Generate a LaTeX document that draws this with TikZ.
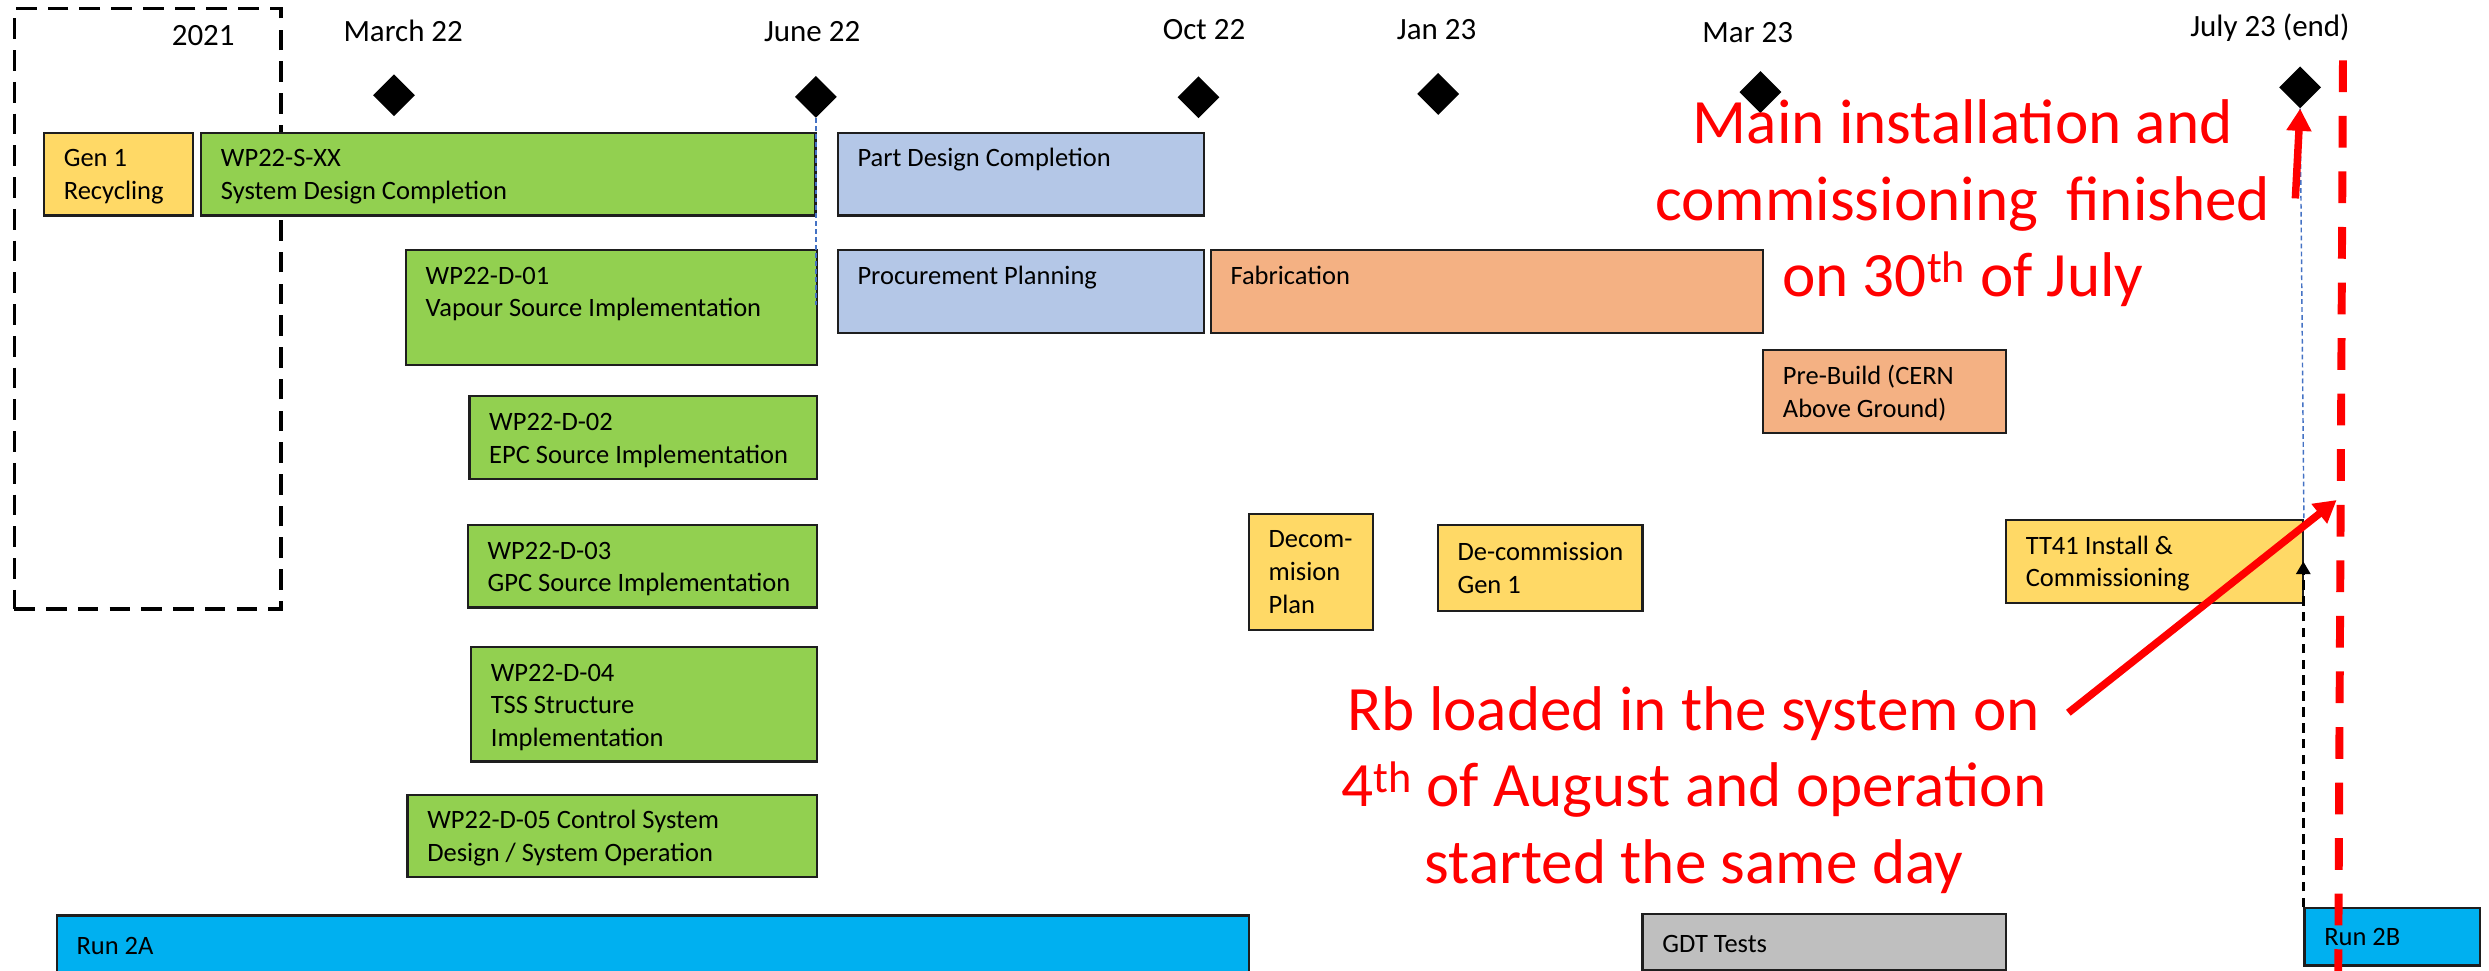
\documentclass[tikz,border=0pt]{standalone}
\usepackage{fontspec}
\setmainfont{Carlito}
\usetikzlibrary{shapes.geometric,arrows.meta}

\definecolor{wpgreen}{HTML}{92D050}
\definecolor{wpyellow}{HTML}{FFD966}
\definecolor{wpblue}{HTML}{B4C7E7}
\definecolor{wporange}{HTML}{F4B183}
\definecolor{runcyan}{HTML}{00B0F0}
\definecolor{testgray}{HTML}{BFBFBF}
\definecolor{edgegray}{HTML}{1E1E1E}
\definecolor{linkblue}{HTML}{4472C4}
\definecolor{notered}{HTML}{FF0000}

\newcommand\boxfont{\fontsize{16.7bp}{20.5bp}\selectfont}
\newcommand\datefont{\fontsize{19.5bp}{23.5bp}\selectfont}
\newcommand\notefont{\fontsize{39.8bp}{48.2bp}\selectfont}

\tikzset{
  task/.style={draw=edgegray, line width=1.4bp, anchor=north west,
    inner sep=0pt, font=\boxfont, text=black},
  milestone/.style={diamond, fill=black, draw=none, minimum width=26.5bp,
    minimum height=26.5bp, inner sep=0pt},
  datelabel/.style={font=\datefont, anchor=base, inner sep=0pt},
  yearbox/.style={draw=black, line width=2bp, dash pattern=on 13bp off 7bp,
    anchor=north west, inner sep=0pt},
  linkline/.style={draw=linkblue, line width=0.9bp, dash pattern=on 3bp off 2bp},
  feedline/.style={draw=black, line width=1.5bp, dash pattern=on 6bp off 4bp,
    -{Triangle[length=8bp,width=9bp]}},
  % multi-line note: the base anchor sits on the baseline of the last line
  notetext/.style={font=\notefont, text=notered, align=center, anchor=base,
    inner sep=0pt},
  notearrow/.style={draw=notered, line width=4.7bp,
    -{Triangle[length=14bp,width=15bp]}},
  deadline/.style={draw=notered, line width=5bp, dash pattern=on 20bp off 15bp},
}

% task bar: [first baseline]{name}{fill}{x}{y}{width}{height}{text}
\newcommand\taskbar[8][21.5]{%
  \node[task, fill=#3] (#2) at (#4,#5)
    {\parbox[t][#7bp][t]{#6bp}{\leftskip=12.5bp\rightskip=0pt plus 1fil%
      \rule{0pt}{#1bp}#8}};}

\begin{document}
\begin{tikzpicture}[x=1bp, y=-1bp]
\useasboundingbox (0,0) rectangle (1568,611.7);

% 2021 period
\node[yearbox, minimum width=168bp, minimum height=378bp] (y2021) at (8,4.6) {};
\node[datelabel] (t2021) at (128,28.8) {2021};

% time axis labels
\node[datelabel] (lMar22) at (254,26.3) {March 22};
\node[datelabel] (lJun22) at (511.6,26.3) {June 22};
\node[datelabel] (lOct22) at (758.5,25.2) {Oct 22};
\node[datelabel] (lJan23) at (905,25.2) {Jan 23};
\node[datelabel] (lMar23) at (1101,27) {Mar 23};
\node[datelabel] (lJul23) at (1430,22.9) {July 23 (end)};

% milestones
\node[milestone] (mMar22) at (248.2,60) {};
\node[milestone] (mJun22) at (514,61) {};
\node[milestone] (mOct22) at (755,61.3) {};
\node[milestone] (mJan23) at (906,59.2) {};
\node[milestone] (mMar23) at (1109,58) {};
\node[milestone] (mJul23) at (1449,55) {};

% work packages and activities
\taskbar{gen1}{wpyellow}{27}{83}{94}{52}{Gen 1\\Recycling}
\taskbar{wps}{wpgreen}{126}{83}{387}{52}{WP22-S-XX\\System Design Completion}
\taskbar{pdc}{wpblue}{527}{83}{231}{52}{Part Design Completion}
\taskbar{d01}{wpgreen}{255}{157}{259}{72}{WP22-D-01\\Vapour Source Implementation}
\taskbar{proc}{wpblue}{527}{157}{231}{52}{Procurement Planning}
\taskbar{fab}{wporange}{762}{157}{348}{52}{Fabrication}
\taskbar{pre}{wporange}{1110}{220}{153}{52}{Pre-Build (CERN\\Above Ground)}
\taskbar{d02}{wpgreen}{295}{249}{219}{52}{WP22-D-02\\EPC Source Implementation}
\taskbar{d03}{wpgreen}{294}{330}{220}{52}{WP22-D-03\\GPC Source Implementation}
\taskbar{decom}{wpyellow}{786}{323}{78}{73}{Decom-\\mision\\Plan}
\taskbar[22.5]{degen}{wpyellow}{905}{330}{129}{54}{De-commission\\Gen 1}
\taskbar{tt41}{wpyellow}{1263}{327}{187}{52}{TT41 Install \&\\Commissioning}
\taskbar{d04}{wpgreen}{296}{407}{218}{72}{WP22-D-04\\TSS Structure\\Implementation}
\taskbar{d05}{wpgreen}{256}{500}{258}{52}{WP22-D-05 Control System\\Design / System Operation}
\taskbar[24.5]{run2a}{runcyan}{35}{576}{751}{40}{Run 2A}
\taskbar[24.5]{gdt}{testgray}{1034}{575}{229}{35.6}{GDT Tests}
\taskbar[23.5]{run2b}{runcyan}{1451}{571.5}{110.5}{36}{Run 2B}

% dependency links
\coordinate (junEnd) at (514,192);
\draw[linkline] (mJun22.south) -- (junEnd);
\draw[linkline] (mJul23.south) -- (tt41.north east);
\draw[feedline] (run2b.north west) -- (run2b.north west |- tt41.east);

% annotations
\coordinate (deadTop) at (1476,38);
\coordinate (deadBot) at (1473,612);
\draw[deadline] (deadTop) -- (deadBot);

\node[notetext] (noteA) at (1236.5,186.8)
  {Main installation and\\commissioning\ \ finished\\on 30\textsuperscript{th} of July};
\node[notetext] (noteB) at (1067,556.5)
  {Rb loaded in the system on\\4\textsuperscript{th} of August and operation\\started the same day};

\coordinate (tailA) at (1446,125);
\draw[notearrow] (tailA) -- (mJul23.south);
\coordinate (tailB) at (1303,449);
\coordinate (hitB) at (1472,315);
\draw[notearrow] (tailB) -- (hitB);

\end{tikzpicture}
\end{document}
